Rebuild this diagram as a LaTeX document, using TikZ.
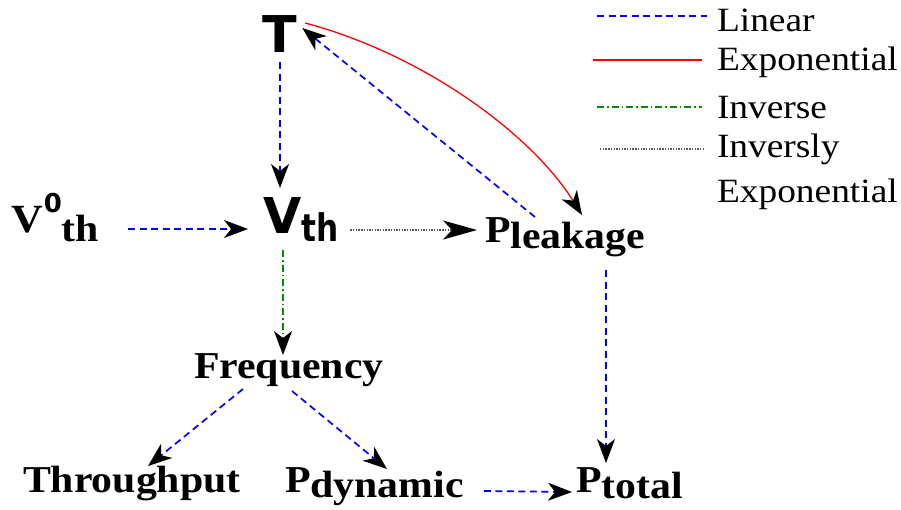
\documentclass[tikz,border=0pt]{standalone}
\usepackage{fontspec}
\usepackage{graphicx}
\setmainfont{Liberation Serif}[FakeStretch=1.1]
\newfontfamily\dvsans{DejaVu Sans}
\usetikzlibrary{arrows.meta,calc}
\definecolor{invgreen}{RGB}{0,140,0}
\definecolor{dotgray}{RGB}{85,85,100}
\tikzset{
  lbl/.style={inner sep=0pt, outer sep=0pt, anchor=base west, font=\fontsize{38}{40}\selectfont\bfseries},
  leg/.style={inner sep=0pt, outer sep=0pt, anchor=base west, font=\fontsize{34}{36}\selectfont},
  tip/.style={-{Stealth[length=24pt,width=18pt,inset=7pt,color=black]}},
  longtip/.style={-{Stealth[length=34pt,width=19pt,inset=9pt,color=black]}},
  linS/.style={blue, line width=1.7pt, dash pattern=on 7pt off 4.5pt},
  expS/.style={red, line width=1.3pt},
  invS/.style={invgreen, line width=1.5pt, dash pattern=on 7pt off 3pt on 1.5pt off 3pt},
  ivxS/.style={dotgray, line width=1.5pt, dash pattern=on 1.4pt off 1.3pt},
}
\begin{document}
\begin{tikzpicture}[x=1pt,y=-1pt]
\useasboundingbox (0,0) rectangle (901,509);
% nodes
\node[inner sep=0pt, outer sep=0pt, anchor=base, font=\dvsans\bfseries\fontsize{50.7}{52}\selectfont] (T) at (280,52) {T};
\node[inner sep=0pt, outer sep=0pt, anchor=base west] (Vth) at (263,233)
  {{\dvsans\bfseries\fontsize{49.4}{50}\selectfont V}\raisebox{-8pt}{\scalebox{0.82}[1]{\dvsans\bfseries\fontsize{38}{39}\selectfont th}}};
\node[inner sep=0pt, outer sep=0pt, anchor=base west] (V0) at (12,232)
  {{\bfseries\fontsize{40}{42}\selectfont V}\raisebox{20pt}{\dvsans\bfseries\fontsize{26}{28}\selectfont 0}\raisebox{-9pt}{\bfseries\fontsize{38}{40}\selectfont th}};
\node[lbl] (Pleak) at (485,242) {P\raisebox{-6pt}{leakage}};
\node[lbl] (Freq) at (194,378) {Frequency};
\node[lbl] (Thr) at (23,492) {Throughput};
\node[lbl] (Pdyn) at (285,492) {P\raisebox{-5pt}{dynamic}};
\node[lbl] (Ptot) at (576,492) {P\raisebox{-6pt}{total}};
% connectors
\draw[linS,tip] ($(T.south)+(0,10)$) -- ($(T.south |- Vth.north)+(0,-9)$);
\draw[linS,tip] ($(V0.base east)+(29,-3)$) -- ($(Vth.base west)+(-15,-4)$);
\draw[ivxS,longtip] ($(Vth.base east)+(12,-3)$) -- ($(Pleak.base west)+(-8,-12)$);
\draw[linS,tip] ($(Pleak.base west)+(50,-25)$) -- ($(T.base east)+(5,-24)$);
\draw[expS,tip] ($(T.base east)+(8,-29)$) .. controls (425,55) and (532,135) .. ($(Pleak.base west)+(97,-27)$);
\draw[invS,tip] ($(Vth.base west)+(20,17)$) -- ($(Freq.base west)+(89,-23)$);
\draw[linS,tip] ($(Freq.base west)+(49,11)$) -- ($(Thr.base west)+(125,-26)$);
\draw[linS,tip] ($(Freq.base west)+(98,13)$) -- ($(Pdyn.base west)+(102,-23)$);
\draw[linS,tip] ($(Pleak.base west)+(121,28)$) -- ($(Ptot.base west)+(30,-29)$);
\draw[linS,tip] ($(Pdyn.base east)+(20,-1)$) -- ($(Ptot.base west)+(-4,0)$);
% legend
\node[leg] (L1) at (717,31) {Linear};
\node[leg] (L2) at (717,70) {Exponential};
\node[leg] (L3) at (717,118) {Inverse};
\node[leg] (L4) at (717,157) {Inversly};
\node[leg] (L5) at (717,202) {Exponential};
\coordinate (c1) at (597,16);
\coordinate (c2) at (593,60);
\coordinate (c3) at (597,107);
\coordinate (c4) at (600,149);
\draw[linS] (c1) -- ($(L1.base west)+(-10,-15)$);
\draw[expS] (c2) -- ($(L2.base west)+(-15,-10)$);
\draw[invS] (c3) -- ($(L3.base west)+(-15,-11)$);
\draw[ivxS] (c4) -- ($(L4.base west)+(-14,-8)$);
\end{tikzpicture}
\end{document}
